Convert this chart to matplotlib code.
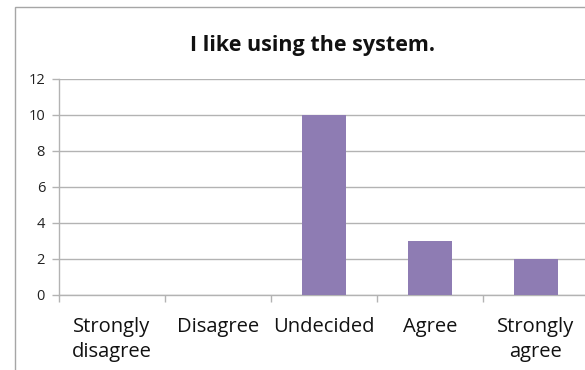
import matplotlib
matplotlib.use("Agg")
import matplotlib.pyplot as plt
from matplotlib.patches import Rectangle

categories = ["Strongly\ndisagree", "Disagree", "Undecided", "Agree", "Strongly\nagree"]
counts = [0, 0, 10, 3, 2]
yticks = [0, 2, 4, 6, 8, 10, 12]
title = "I like using the system."

W, H = 585, 370
fig = plt.figure(figsize=(W / 100, H / 100), dpi=100)
plt.rcParams['font.family'] = ['Open Sans', 'DejaVu Sans']

grid_c = "#b3b3b3"
bar_c = "#8e7cb3"

# outer chart border
fig.patches.append(Rectangle((15 / W, -0.1), 1.2, 1 - 7 / H + 0.1, transform=fig.transFigure,
                             fill=False, edgecolor="#a6a6a6", linewidth=1.0))

left, right, bottom, top = 59, 589, 295, 79
ax = fig.add_axes([left / W, 1 - bottom / H, (right - left) / W, (bottom - top) / H])

x = list(range(len(categories)))
ax.bar(x, counts, width=0.42, color=bar_c, zorder=3)
ax.set_xlim(-0.5, len(categories) - 0.5)
ax.set_ylim(0, 12)
ax.set_yticks(yticks)
ax.set_yticklabels([str(v) for v in yticks], fontsize=10.5, color="#222222")
ax.tick_params(axis='y', length=5, width=1, color=grid_c, pad=5)
ax.yaxis.grid(True, color=grid_c, linewidth=1, zorder=0)
ax.set_axisbelow(True)

ax.set_xticks([i - 0.5 for i in range(len(categories) + 1)])
ax.set_xticklabels([])
ax.set_xticks(x, minor=True)
ax.set_xticklabels(categories, minor=True, fontsize=14.5, color="#111111", linespacing=1.3)
ax.tick_params(axis='x', which='major', length=5, width=1, color=grid_c)
ax.tick_params(axis='x', which='minor', length=0, pad=16)

for s in ["top", "right"]:
    ax.spines[s].set_visible(False)
for s in ["left", "bottom"]:
    ax.spines[s].set_color(grid_c)
    ax.spines[s].set_linewidth(1)

fig.text(313 / W, 1 - 51 / H, title, ha="center", va="baseline", fontsize=15.5,
         fontweight="bold", color="#111111")

fig.savefig("out.png", dpi=100, facecolor="white")
